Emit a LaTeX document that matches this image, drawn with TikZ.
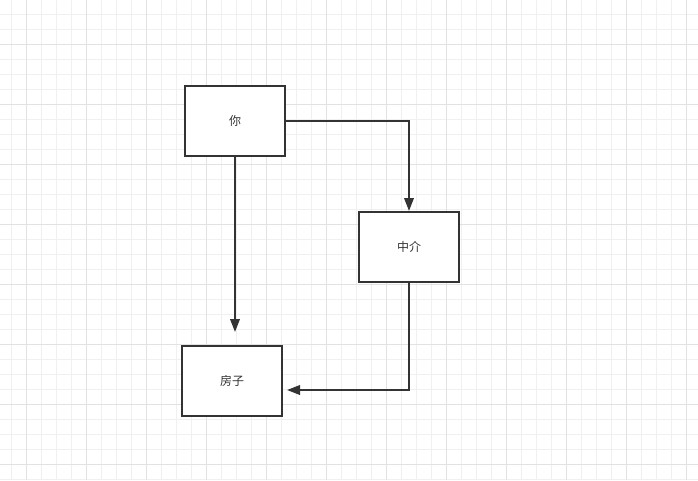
\documentclass[tikz,border=0pt]{standalone}
\usepackage{fontspec}
\newfontfamily\cjk{Noto Sans CJK SC}
\usetikzlibrary{arrows.meta,calc}
\definecolor{minorgrid}{RGB}{240,240,240}
\definecolor{majorgrid}{RGB}{226,226,226}
\definecolor{ink}{RGB}{51,51,51}
\begin{document}
\begin{tikzpicture}[x=1pt,y=-1pt,
  box/.style={draw=ink,line width=2pt,fill=white,minimum width=100pt,minimum height=70pt,inner sep=0pt,font=\cjk\fontsize{12}{14}\selectfont,text=ink},
  conn/.style={draw=ink,line width=2pt,-{Triangle[length=13pt,width=9.5pt]}}]
\useasboundingbox (0,0) rectangle (698,480);
\fill[white] (0,0) rectangle (698,480);
\foreach \i in {0,...,46} {
  \draw[minorgrid,line width=1pt] ({11.7+15*\i},0) -- ({11.7+15*\i},480);
}
\foreach \i in {0,...,32} {
  \draw[minorgrid,line width=1pt] (0,{14.3+15*\i}) -- (698,{14.3+15*\i});
}
\foreach \i in {0,...,11} {
  \draw[majorgrid,line width=1pt] ({26.7+60*\i},0) -- ({26.7+60*\i},480);
}
\foreach \i in {0,...,7} {
  \draw[majorgrid,line width=1pt] (0,{44.3+60*\i}) -- (698,{44.3+60*\i});
}
\node[box] (you) at (235,121) {你};
\node[box] (agent) at (409,247) {中介};
\node[box] (house) at (232,381) {房子};
\coordinate (t1) at (235,332);
\coordinate (t2) at (287,390);
\draw[conn] (you.south) -- (t1);
\draw[conn] (you.east) -| (agent.north);
\draw[conn] (agent.south) |- (t2);
\end{tikzpicture}
\end{document}
